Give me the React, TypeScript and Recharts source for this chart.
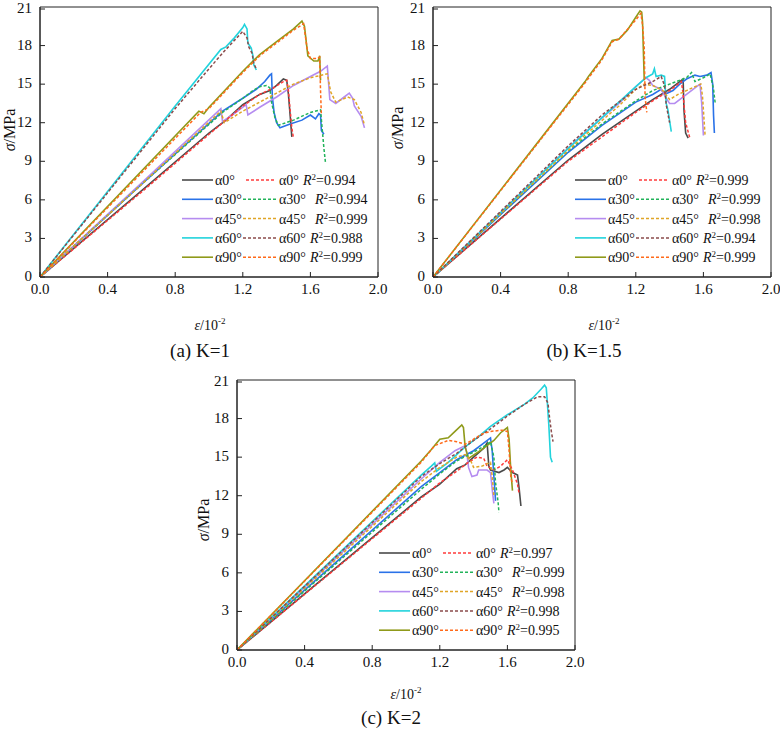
import { LineChart, Line, XAxis, YAxis, ReferenceArea, Legend } from 'recharts'

type Pt = [number, number]

const strainTicks = [0, 0.4, 0.8, 1.2, 1.6, 2.0]
const stressTicks = [0, 3, 6, 9, 12, 15, 18, 21]
const angles = ['α0°', 'α30°', 'α45°', 'α60°', 'α90°']
const testColors = ['#4a4a4a', '#2a72e8', '#b58cf0', '#22d3dc', '#8f9a1a']
const fitColors = ['#ff3b3b', '#22b35a', '#e0a526', '#8a4b4b', '#ff6a1a']

// K = 1 : measured curves (strain in 10^-2, stress in MPa)
const k1Test0: Pt[] = [[0, 0], [0.6, 6.7], [1.0, 11.2], [1.1, 12.2], [1.2, 13.4], [1.3, 14.2], [1.36, 14.5], [1.4, 14.9], [1.44, 15.4], [1.46, 15.3], [1.47, 14.2], [1.48, 12.6], [1.49, 10.9]]
const k1Test30: Pt[] = [[0, 0], [0.6, 7.2], [1.08, 12.9], [1.2, 13.9], [1.28, 14.6], [1.33, 15.2], [1.36, 15.7], [1.37, 15.8], [1.375, 14.0], [1.385, 12.8], [1.4, 12.0], [1.42, 11.6], [1.48, 11.9], [1.55, 12.2], [1.6, 12.6], [1.63, 12.3], [1.65, 12.7], [1.66, 12.6], [1.665, 11.4], [1.68, 11.1]]
const k1Test45: Pt[] = [[0, 0], [0.6, 7.3], [1.07, 13.1], [1.08, 12.1], [1.15, 12.7], [1.22, 13.4], [1.23, 12.6], [1.3, 13.2], [1.4, 14.0], [1.5, 14.9], [1.6, 15.6], [1.66, 16.0], [1.69, 16.3], [1.7, 16.4], [1.715, 13.8], [1.75, 13.5], [1.8, 14.0], [1.83, 14.3], [1.85, 13.9], [1.86, 13.3], [1.9, 12.5], [1.92, 11.6]]
const k1Test60: Pt[] = [[0, 0], [0.8, 13.3], [1.07, 17.7], [1.1, 17.9], [1.15, 18.6], [1.2, 19.4], [1.21, 19.65], [1.225, 19.3], [1.23, 18.2], [1.25, 17.8], [1.26, 17.2], [1.265, 16.5], [1.28, 16.1]]
const k1Test90: Pt[] = [[0, 0], [0.94, 12.9], [0.97, 12.7], [1.0, 13.2], [1.1, 14.6], [1.2, 16.0], [1.3, 17.3], [1.4, 18.3], [1.5, 19.3], [1.55, 19.9], [1.565, 19.5], [1.585, 17.2], [1.62, 16.8], [1.645, 16.8], [1.655, 17.2], [1.66, 15.3]]
// K = 1 : model curves
const k1Fit0: Pt[] = [[0, 0], [0.6, 6.6], [1.0, 11.1], [1.2, 13.3], [1.3, 14.2], [1.38, 14.7], [1.44, 15.2], [1.46, 15.3], [1.47, 14.5], [1.48, 13.0], [1.49, 11.6], [1.5, 10.8]]
const k1Fit30: Pt[] = [[0, 0], [0.6, 7.2], [1.08, 12.8], [1.2, 13.9], [1.26, 14.5], [1.3, 14.8], [1.34, 14.9], [1.36, 14.7], [1.37, 13.6], [1.39, 12.4], [1.41, 11.8], [1.5, 12.2], [1.6, 12.8], [1.66, 13.0], [1.67, 11.5], [1.68, 10.0], [1.69, 8.8]]
const k1Fit45: Pt[] = [[0, 0], [0.6, 7.2], [1.07, 12.9], [1.09, 12.0], [1.2, 12.9], [1.3, 13.6], [1.4, 14.3], [1.5, 15.0], [1.6, 15.5], [1.7, 15.8], [1.72, 14.4], [1.75, 13.6], [1.82, 14.0], [1.86, 13.8], [1.9, 12.8], [1.92, 11.8]]
const k1Fit60: Pt[] = [[0, 0], [0.8, 13.1], [1.0, 16.2], [1.1, 17.7], [1.2, 19.1], [1.225, 18.6], [1.235, 17.9], [1.255, 17.4], [1.265, 16.6], [1.28, 16.2]]
const k1Fit90: Pt[] = [[0, 0], [0.95, 12.8], [1.0, 13.1], [1.1, 14.5], [1.2, 15.9], [1.3, 17.2], [1.4, 18.2], [1.5, 19.2], [1.56, 19.7], [1.58, 17.8], [1.6, 17.0], [1.64, 17.0], [1.655, 17.1], [1.66, 14.5], [1.665, 12.6]]
const k1R2 = [0.994, 0.994, 0.999, 0.988, 0.999]

// K = 1.5
const k15Test0: Pt[] = [[0, 0], [0.8, 9.1], [1.0, 11.1], [1.2, 12.9], [1.3, 13.8], [1.4, 14.6], [1.46, 15.2], [1.48, 15.4], [1.485, 13.0], [1.495, 11.2], [1.51, 10.8]]
const k15Test30: Pt[] = [[0, 0], [0.8, 9.7], [1.0, 11.8], [1.2, 13.6], [1.3, 14.2], [1.35, 14.6], [1.37, 14.2], [1.42, 14.5], [1.46, 15.0], [1.5, 15.4], [1.55, 15.7], [1.58, 15.6], [1.62, 15.7], [1.645, 15.9], [1.655, 15.0], [1.66, 12.6], [1.665, 11.2]]
const k15Test45: Pt[] = [[0, 0], [0.87, 10.9], [1.1, 13.5], [1.2, 14.8], [1.26, 15.5], [1.28, 15.3], [1.3, 14.9], [1.35, 14.6], [1.38, 13.9], [1.4, 13.5], [1.43, 13.5], [1.5, 14.2], [1.56, 14.8], [1.58, 15.0], [1.59, 13.5], [1.6, 11.0]]
const k15Test60: Pt[] = [[0, 0], [0.8, 10.0], [1.0, 12.4], [1.2, 14.8], [1.26, 15.5], [1.3, 15.8], [1.31, 16.2], [1.32, 15.6], [1.35, 15.7], [1.37, 15.6], [1.38, 13.5], [1.39, 13.0], [1.41, 11.3]]
const k15Test90: Pt[] = [[0, 0], [0.9, 15.2], [0.92, 15.6], [1.0, 17.0], [1.06, 18.4], [1.1, 18.5], [1.15, 19.2], [1.2, 20.2], [1.225, 20.7], [1.235, 20.6], [1.24, 19.8], [1.245, 17.5], [1.25, 15.3]]
const k15Fit0: Pt[] = [[0, 0], [0.8, 9.0], [1.0, 10.9], [1.2, 12.8], [1.3, 13.7], [1.4, 14.5], [1.47, 15.2], [1.48, 14.2], [1.495, 12.0], [1.52, 10.8]]
const k15Fit30: Pt[] = [[0, 0], [0.8, 9.8], [1.0, 11.9], [1.2, 13.7], [1.3, 14.5], [1.4, 15.0], [1.5, 15.5], [1.53, 15.9], [1.55, 15.2], [1.6, 15.5], [1.64, 15.8], [1.66, 14.6], [1.67, 13.5]]
const k15Fit45: Pt[] = [[0, 0], [0.87, 10.7], [1.1, 13.3], [1.2, 14.6], [1.25, 15.0], [1.3, 14.9], [1.36, 14.5], [1.4, 13.8], [1.45, 14.2], [1.5, 14.5], [1.55, 14.8], [1.585, 15.0], [1.595, 14.0], [1.61, 11.0]]
const k15Fit60: Pt[] = [[0, 0], [0.8, 10.2], [1.0, 12.6], [1.2, 14.6], [1.3, 15.2], [1.35, 15.6], [1.37, 14.9], [1.38, 13.4], [1.4, 12.0]]
const k15Fit90: Pt[] = [[0, 0], [0.9, 15.1], [1.0, 16.9], [1.06, 18.3], [1.1, 18.5], [1.2, 20.0], [1.23, 20.5], [1.24, 19.6], [1.25, 17.8], [1.255, 14.0], [1.265, 12.8]]
const k15R2 = [0.999, 0.999, 0.998, 0.994, 0.999]

// K = 2
const k2Test0: Pt[] = [[0, 0], [1.09, 11.9], [1.2, 12.9], [1.3, 14.1], [1.35, 14.4], [1.4, 15.0], [1.46, 15.7], [1.48, 16.1], [1.49, 14.3], [1.5, 14.0], [1.55, 13.8], [1.58, 14.0], [1.6, 14.2], [1.63, 13.8], [1.66, 13.6], [1.67, 12.5], [1.68, 11.2]]
const k2Test30: Pt[] = [[0, 0], [1.09, 12.7], [1.2, 13.8], [1.3, 14.8], [1.4, 15.5], [1.45, 16.0], [1.5, 16.5], [1.51, 15.5], [1.52, 13.5], [1.53, 11.6]]
const k2Test45: Pt[] = [[0, 0], [1.09, 13.3], [1.2, 14.6], [1.29, 15.5], [1.35, 15.9], [1.36, 15.3], [1.37, 14.2], [1.39, 13.5], [1.42, 13.6], [1.43, 14.0], [1.48, 14.0], [1.5, 13.8], [1.51, 12.5], [1.52, 11.4]]
const k2Test60: Pt[] = [[0, 0], [1.09, 13.6], [1.15, 14.3], [1.17, 14.55], [1.18, 13.9], [1.25, 14.6], [1.35, 15.8], [1.43, 16.6], [1.5, 17.4], [1.6, 18.3], [1.7, 19.1], [1.75, 19.6], [1.8, 20.3], [1.82, 20.6], [1.83, 20.4], [1.835, 19.5], [1.845, 17.5], [1.855, 15.0], [1.865, 14.6]]
const k2Test90: Pt[] = [[0, 0], [1.09, 14.7], [1.15, 15.6], [1.2, 16.4], [1.25, 16.5], [1.29, 17.0], [1.33, 17.5], [1.34, 17.3], [1.35, 15.8], [1.37, 14.9], [1.45, 15.6], [1.52, 16.3], [1.56, 16.9], [1.6, 17.3], [1.61, 16.4], [1.62, 14.0], [1.63, 12.4]]
const k2Fit0: Pt[] = [[0, 0], [1.09, 11.8], [1.2, 13.0], [1.3, 13.9], [1.37, 14.6], [1.42, 15.0], [1.46, 14.9], [1.48, 14.3], [1.52, 14.0], [1.56, 14.3], [1.6, 14.8], [1.63, 14.0], [1.66, 12.9], [1.67, 12.1]]
const k2Fit30: Pt[] = [[0, 0], [1.09, 12.5], [1.2, 13.7], [1.3, 14.7], [1.4, 15.4], [1.47, 15.9], [1.5, 16.2], [1.52, 15.0], [1.53, 13.0], [1.545, 11.5], [1.55, 10.7]]
const k2Fit45: Pt[] = [[0, 0], [1.09, 13.1], [1.2, 14.2], [1.3, 15.0], [1.35, 15.2], [1.38, 14.8], [1.4, 14.2], [1.45, 14.3], [1.5, 14.6], [1.51, 13.5], [1.52, 12.0]]
const k2Fit60: Pt[] = [[0, 0], [1.09, 13.5], [1.2, 14.5], [1.3, 15.3], [1.4, 16.3], [1.5, 17.2], [1.6, 18.2], [1.7, 19.1], [1.78, 19.7], [1.82, 19.7], [1.84, 19.2], [1.85, 18.0], [1.86, 17.0], [1.87, 16.2]]
const k2Fit90: Pt[] = [[0, 0], [1.09, 14.6], [1.17, 15.9], [1.25, 16.3], [1.3, 16.2], [1.35, 16.0], [1.4, 16.4], [1.45, 16.8], [1.5, 17.0], [1.57, 17.1], [1.6, 17.0], [1.61, 15.5], [1.62, 13.5], [1.63, 12.9]]
const k2R2 = [0.997, 0.999, 0.998, 0.998, 0.995]

const SERIF = "'Liberation Serif', 'Times New Roman', serif"
const CHART_W = 390
const CHART_H = 330

const toRows = (pts: Pt[]) => pts.map(([e, s]) => ({ e, s }))

// ticks point into the plot, so draw them by hand next to the label
function StrainTick({ x, y, payload }: any) {
  return (
    <g>
      <line x1={x} y1={y} x2={x} y2={y - 5} stroke="#222" />
      <text x={x} y={y + 17} textAnchor="middle" fontSize={15} style={{ fontFamily: SERIF }} fill="#111">
        {Number(payload.value).toFixed(1)}
      </text>
    </g>
  )
}

function StressTick({ x, y, payload }: any) {
  return (
    <g>
      <line x1={x} y1={y} x2={x + 5} y2={y} stroke="#222" />
      <text x={x - 8} y={y + 4} textAnchor="end" fontSize={15} style={{ fontFamily: SERIF }} fill="#111">
        {payload.value}
      </text>
    </g>
  )
}

function PairLegend({ r2 }: { r2: number[] }) {
  return (
    <svg width={200} height={100} style={{ display: 'block', overflow: 'visible', fontFamily: SERIF }}>
      {angles.map((a, i) => {
        const y = 10 + i * 19.3
        const gap = i === 1 || i === 2 ? 9 : 4
        return (
          <g key={a} fontSize={14} fill="#111">
            <line x1={0} x2={31} y1={y} y2={y} stroke={testColors[i]} strokeWidth={1.6} />
            <text x={33} y={y + 5}>{a}</text>
            <line x1={i === 0 ? 64 : 61} x2={94} y1={y} y2={y} stroke={fitColors[i]} strokeWidth={1.5} strokeDasharray="3 2" />
            <text x={97} y={y + 5}>
              {a}
              <tspan dx={gap} fontStyle="italic">R</tspan>
              <tspan baselineShift="super" fontSize={9}>2</tspan>
              <tspan>={r2[i].toFixed(3)}</tspan>
            </text>
          </g>
        )
      })}
    </svg>
  )
}

function StressStrainPanel({ tests, fits, r2 }: { tests: Pt[][]; fits: Pt[][]; r2: number[] }) {
  return (
    <LineChart width={CHART_W} height={CHART_H} margin={{ top: 7, right: 12, left: 0, bottom: 23 }}>
      <XAxis
        type="number"
        dataKey="e"
        domain={[0, 2]}
        ticks={strainTicks}
        allowDataOverflow
        tickSize={0}
        tickMargin={0}
        height={30}
        tick={<StrainTick />}
        axisLine={{ stroke: '#222' }}
        tickLine={false}
      />
      <YAxis
        type="number"
        domain={[0, 21]}
        ticks={stressTicks}
        allowDataOverflow
        tickSize={0}
        tickMargin={0}
        width={40}
        tick={<StressTick />}
        axisLine={{ stroke: '#222' }}
        tickLine={false}
      />
      <ReferenceArea x1={0} x2={2} y1={0} y2={21} fill="none" stroke="#222" strokeWidth={1} />
      {tests.map((pts, i) => (
        <Line
          key={'t' + i}
          data={toRows(pts)}
          dataKey="s"
          type="linear"
          stroke={testColors[i]}
          strokeWidth={1.6}
          dot={false}
          isAnimationActive={false}
        />
      ))}
      {fits.map((pts, i) => (
        <Line
          key={'f' + i}
          data={toRows(pts)}
          dataKey="s"
          type="linear"
          stroke={fitColors[i]}
          strokeWidth={1.5}
          strokeDasharray="3 2"
          dot={false}
          isAnimationActive={false}
        />
      ))}
      <Legend
        layout="vertical"
        align="center"
        verticalAlign="middle"
        content={() => <PairLegend r2={r2} />}
        wrapperStyle={{ left: 182, top: 170, width: 200, height: 100 }}
      />
    </LineChart>
  )
}

const abs = (left: number, top: number): React.CSSProperties => ({ position: 'absolute', left, top })

function StrainTitle({ cx, cy }: { cx: number; cy: number }) {
  return (
    <div style={{ ...abs(cx - 30, cy - 9), width: 60, textAlign: 'center', fontSize: 14, lineHeight: '18px' }}>
      <i>ε</i>/10<sup style={{ fontSize: 9 }}>-2</sup>
    </div>
  )
}

function StressTitle({ cx, cy }: { cx: number; cy: number }) {
  return (
    <div
      style={{
        ...abs(cx - 30, cy - 9),
        width: 60,
        textAlign: 'center',
        fontSize: 16,
        lineHeight: '18px',
        transform: 'rotate(-90deg)',
      }}
    >
      <i>σ</i>/MPa
    </div>
  )
}

function Caption({ cx, cy, text }: { cx: number; cy: number; text: string }) {
  return (
    <div style={{ ...abs(cx - 60, cy - 11), width: 120, textAlign: 'center', fontSize: 19, lineHeight: '22px' }}>
      {text}
    </div>
  )
}

export default function App() {
  return (
    <div
      style={{
        position: 'absolute',
        left: 0,
        top: 0,
        width: 780,
        height: 734,
        background: '#fff',
        color: '#111',
        fontFamily: SERIF,
      }}
    >
      <div style={abs(0, 0)}>
        <StressStrainPanel
          tests={[k1Test0, k1Test30, k1Test45, k1Test60, k1Test90]}
          fits={[k1Fit0, k1Fit30, k1Fit45, k1Fit60, k1Fit90]}
          r2={k1R2}
        />
      </div>
      <div style={abs(393, 0)}>
        <StressStrainPanel
          tests={[k15Test0, k15Test30, k15Test45, k15Test60, k15Test90]}
          fits={[k15Fit0, k15Fit30, k15Fit45, k15Fit60, k15Fit90]}
          r2={k15R2}
        />
      </div>
      <div style={abs(197, 373)}>
        <StressStrainPanel
          tests={[k2Test0, k2Test30, k2Test45, k2Test60, k2Test90]}
          fits={[k2Fit0, k2Fit30, k2Fit45, k2Fit60, k2Fit90]}
          r2={k2R2}
        />
      </div>

      <StressTitle cx={10} cy={130} />
      <StressTitle cx={398} cy={128} />
      <StressTitle cx={204} cy={520} />

      <StrainTitle cx={210} cy={321} />
      <StrainTitle cx={604} cy={321} />
      <StrainTitle cx={406} cy={690} />

      <Caption cx={200} cy={351} text="(a) K=1" />
      <Caption cx={584} cy={351} text="(b) K=1.5" />
      <Caption cx={391} cy={718} text="(c) K=2" />
    </div>
  )
}
